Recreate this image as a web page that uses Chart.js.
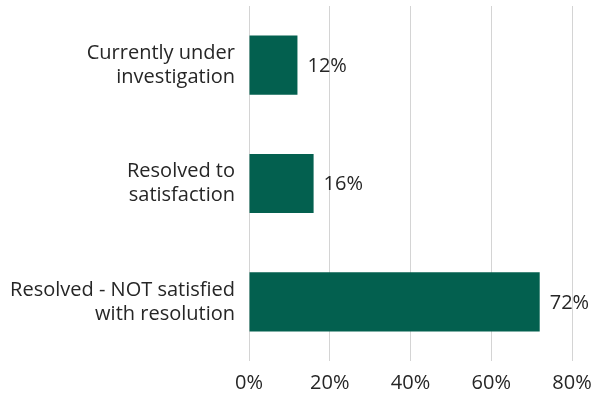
<!DOCTYPE html>
<html>
<head>
<meta charset="utf-8">
<script src="https://cdn.jsdelivr.net/npm/chart.js@4"></script>
<style>
  html, body { margin: 0; padding: 0; background: #fff; }
  #wrap { width: 597px; height: 396px; }
</style>
</head>
<body>
<div id="wrap"><canvas id="myChart" width="597" height="396"></canvas></div>
<script>
  'use strict';

  // data
  var categories = [
    ['Currently under', 'investigation'],
    ['Resolved to', 'satisfaction'],
    ['Resolved - NOT satisfied', 'with resolution']
  ];
  var shares = [12, 16, 72];
  var xTicks = [0, 20, 40, 60, 80];

  var FONT = 'Open Sans, Arial, sans-serif';
  var TEXT = '#262626';

  // value labels just past the end of each bar
  var barLabels = {
    id: 'barLabels',
    afterDatasetsDraw: function(chart) {
      var ctx = chart.ctx;
      var meta = chart.getDatasetMeta(0);
      ctx.save();
      ctx.font = '20px ' + FONT;
      ctx.fillStyle = TEXT;
      ctx.textAlign = 'left';
      ctx.textBaseline = 'middle';
      meta.data.forEach(function(bar, i) {
        ctx.fillText(shares[i] + '%', bar.x + 10, bar.y + 1);
      });
      ctx.restore();
    }
  };

  var ctx = document.getElementById('myChart').getContext('2d');
  new Chart(ctx, {
    type: 'bar',
    data: {
      labels: categories,
      datasets: [{
        data: shares,
        backgroundColor: '#03604f',
        borderWidth: 0,
        barPercentage: 0.5,
        categoryPercentage: 1
      }]
    },
    options: {
      indexAxis: 'y',
      responsive: false,
      animation: false,
      layout: { padding: { top: 6, right: 0 } },
      plugins: {
        legend: { display: false },
        tooltip: { enabled: false }
      },
      scales: {
        x: {
          min: 0,
          max: 80,
          afterBuildTicks: function(axis) {
            axis.ticks = xTicks.map(function(v) { return { value: v }; });
          },
          afterFit: function(axis) {
            axis.paddingRight = 25;
            axis.height = 35;
          },
          grid: { color: '#d4d4d4', lineWidth: 1, drawTicks: false },
          border: { display: false },
          ticks: {
            padding: 10,
            color: TEXT,
            font: { family: FONT, size: 20, lineHeight: 1.2 },
            callback: function(v) { return v + '%'; }
          }
        },
        y: {
          grid: { display: false, drawTicks: false },
          border: { display: false },
          afterFit: function(axis) {
            axis.width = 249;
            axis.paddingTop = 0;
            axis.paddingBottom = 0;
          },
          ticks: {
            padding: 14,
            color: TEXT,
            font: { family: FONT, size: 20, lineHeight: 1.2 }
          }
        }
      }
    },
    plugins: [barLabels]
  });
</script>
</body>
</html>
